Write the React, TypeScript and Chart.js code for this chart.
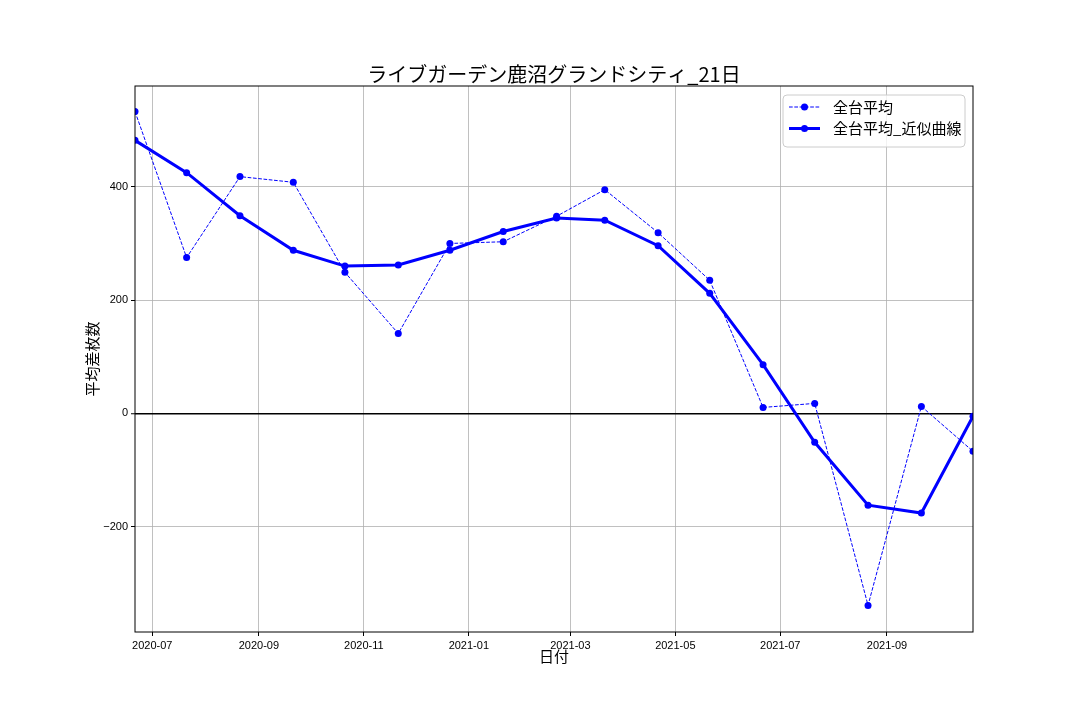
import React, { useEffect, useRef } from 'react';
import { Chart, registerables } from 'chart.js';

Chart.register(...registerables);

const chartTitle = 'ライブガーデン鹿沼グランドシティ_21日';
const xAxisTitle = '日付';
const yAxisTitle = '平均差枚数';
const seriesNames = ['全台平均', '全台平均_近似曲線'];

const dates = [
  '2020-06-21', '2020-07-21', '2020-08-21', '2020-09-21', '2020-10-21', '2020-11-21',
  '2020-12-21', '2021-01-21', '2021-02-21', '2021-03-21', '2021-04-21', '2021-05-21',
  '2021-06-21', '2021-07-21', '2021-08-21', '2021-09-21', '2021-10-21',
];
const avgValues = [533, 275, 418, 408, 249, 141, 300, 303, 348, 395, 319, 235, 10.5, 17.6, -339, 12.3, -67];
const fitValues = [482, 425, 349, 288, 260, 262, 288, 321, 345, 341, 296, 212, 86, -51, -162, -176, -5];

const xTickDates = ['2020-07-01', '2020-09-01', '2020-11-01', '2021-01-01', '2021-03-01', '2021-05-01', '2021-07-01', '2021-09-01'];
const xTickLabels = ['2020-07', '2020-09', '2020-11', '2021-01', '2021-03', '2021-05', '2021-07', '2021-09'];
const xRange = ['2020-06-21', '2021-10-21'];
const yTickValues = [-200, 0, 200, 400];
const yRange = [-386, 578];

const FONT = "'Noto Sans CJK JP', 'DejaVu Sans', sans-serif";
const TICK_FONT = "'Liberation Sans', Arial, sans-serif";
const BLUE = '#0000ff';

const overlayPlugin = {
  id: 'overlay',
  afterDatasetsDraw(chart: any) {
    const { ctx, chartArea } = chart;
    ctx.save();
    // frame (spines)
    ctx.strokeStyle = '#000';
    ctx.lineWidth = 1;
    ctx.strokeRect(chartArea.left, chartArea.top, chartArea.right - chartArea.left, chartArea.bottom - chartArea.top);
    // title
    ctx.fillStyle = '#000';
    ctx.font = `20px ${FONT}`;
    ctx.textAlign = 'center';
    ctx.textBaseline = 'middle';
    ctx.fillText(chartTitle, (chartArea.left + chartArea.right) / 2, chartArea.top - 12);
    // legend
    const bw = 182, bh = 52;
    const bx = chartArea.right - 8 - bw;
    const by = chartArea.top + 9;
    ctx.beginPath();
    ctx.roundRect(bx, by, bw, bh, 4);
    ctx.fillStyle = 'rgba(255,255,255,0.8)';
    ctx.fill();
    ctx.strokeStyle = '#cccccc';
    ctx.lineWidth = 1;
    ctx.stroke();
    const rows = [
      { name: seriesNames[0], width: 1, dash: [3.7, 1.6] },
      { name: seriesNames[1], width: 3, dash: [] as number[] },
    ];
    rows.forEach((r, i) => {
      const cy = by + 12 + i * 21.5;
      ctx.strokeStyle = BLUE;
      ctx.lineWidth = r.width;
      ctx.setLineDash(r.dash);
      ctx.beginPath();
      ctx.moveTo(bx + 6, cy);
      ctx.lineTo(bx + 37, cy);
      ctx.stroke();
      ctx.setLineDash([]);
      ctx.fillStyle = BLUE;
      ctx.beginPath();
      ctx.arc(bx + 21.5, cy, 3.5, 0, Math.PI * 2);
      ctx.fill();
      ctx.fillStyle = '#000';
      ctx.font = `15px ${FONT}`;
      ctx.textAlign = 'left';
      ctx.textBaseline = 'middle';
      ctx.fillText(r.name, bx + 50, cy);
    });
    ctx.restore();
  },
};

export default function App() {
  const ref = useRef<HTMLCanvasElement | null>(null);
  useEffect(() => {
    document.body.style.margin = '0';
    if (!ref.current) return;
    const toPts = (vals: number[]) => dates.map((d, i) => ({ x: Date.parse(d), y: vals[i] }));
    const chart = new Chart(ref.current, {
      type: 'line',
      data: {
        datasets: [
          {
            label: seriesNames[0],
            data: toPts(avgValues),
            borderColor: BLUE,
            backgroundColor: BLUE,
            borderWidth: 1,
            borderDash: [3.7, 1.6],
            pointRadius: 3.5,
            pointBorderWidth: 0,
            pointBackgroundColor: BLUE,
            tension: 0,
            clip: 0,
            order: 1,
          } as any,
          {
            label: seriesNames[1],
            data: toPts(fitValues),
            borderColor: BLUE,
            backgroundColor: BLUE,
            borderWidth: 3,
            pointRadius: 3.5,
            pointBorderWidth: 0,
            pointBackgroundColor: BLUE,
            tension: 0,
            clip: 0,
            order: 0,
          } as any,
        ],
      },
      options: {
        animation: false,
        responsive: false,
        devicePixelRatio: 1,
        layout: { padding: { left: 0, right: 107, top: 86, bottom: 0 } },
        plugins: { legend: { display: false }, title: { display: false }, tooltip: { enabled: false } },
        scales: {
          x: {
            type: 'linear',
            min: Date.parse(xRange[0]),
            max: Date.parse(xRange[1]),
            afterBuildTicks: (s: any) => {
              s.ticks = xTickDates.map((d) => ({ value: Date.parse(d) }));
            },
            afterFit: (s: any) => {
              s.height = 88;
            },
            ticks: {
              autoSkip: false,
              maxRotation: 0,
              padding: 3,
              color: '#000',
              font: { family: TICK_FONT, size: 11 },
              callback: (_v: any, i: number) => xTickLabels[i],
            },
            grid: { color: '#b0b0b0', lineWidth: 0.8, tickLength: 4, tickColor: '#000', tickWidth: 1 },
            border: { display: false },
            title: { display: true, text: xAxisTitle, color: '#000', font: { family: FONT, size: 15 }, padding: { top: 0, bottom: 55 } },
          },
          y: {
            type: 'linear',
            min: yRange[0],
            max: yRange[1],
            afterBuildTicks: (s: any) => {
              s.ticks = yTickValues.map((v) => ({ value: v }));
            },
            afterFit: (s: any) => {
              s.width = 135;
            },
            ticks: {
              padding: 3,
              color: '#000',
              font: { family: TICK_FONT, size: 11 },
              callback: (v: any) => (v < 0 ? '\u2212' + Math.abs(v) : String(v)),
            },
            grid: {
              color: (c: any) => (c.tick && c.tick.value === 0 ? '#000' : '#b0b0b0'),
              lineWidth: (c: any) => (c.tick && c.tick.value === 0 ? 1.5 : 0.8),
              tickLength: 4,
              tickColor: '#000',
              tickWidth: 1,
            },
            border: { display: false },
            title: { display: true, text: yAxisTitle, color: '#000', font: { family: FONT, size: 15 }, padding: { top: 83, bottom: 0 } },
          },
        },
      },
      plugins: [overlayPlugin],
    } as any);
    return () => chart.destroy();
  }, []);
  return (
    <div style={{ width: 1080, height: 720 }}>
      <canvas ref={ref} width={1080} height={720} style={{ display: 'block', width: 1080, height: 720 }} />
    </div>
  );
}
